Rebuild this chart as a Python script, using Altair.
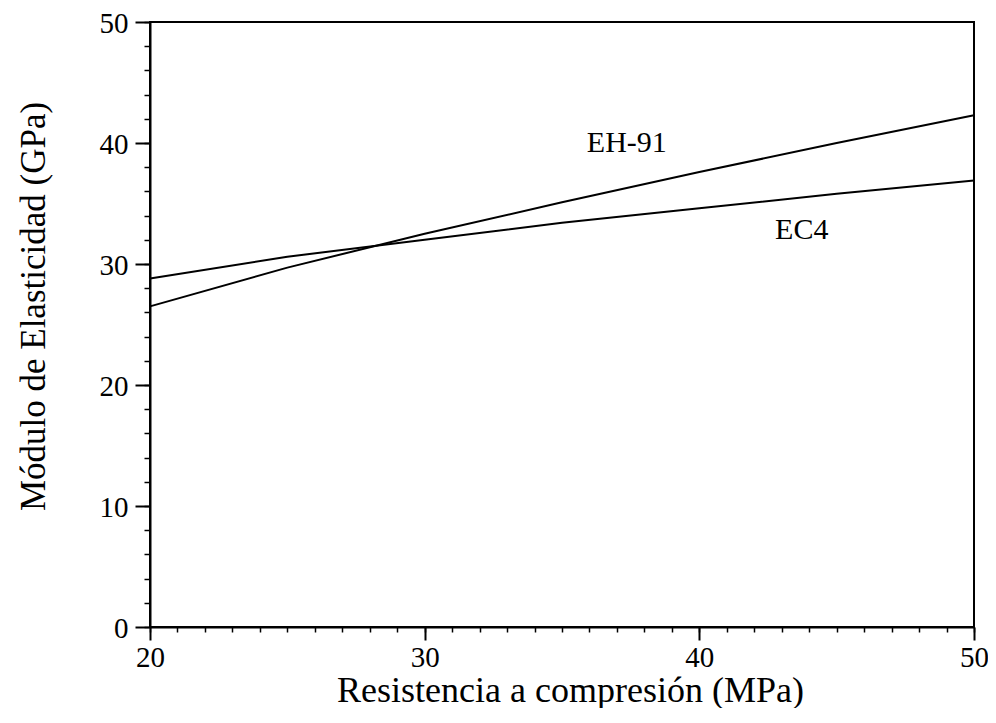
import altair as alt
import pandas as pd

# Data
x_vals = [20, 25, 30, 35, 40, 45, 50]
eh91 = [26.5, 29.7, 32.5, 35.1, 37.6, 40.0, 42.3]
ec4 = [28.8, 30.6, 32.0, 33.4, 34.6, 35.8, 36.9]

label_text = ["EH-91", "EC4"]
label_x = [37.36, 43.73]
label_y = [40.0, 32.8]

x_major = [20, 30, 40, 50]
x_minor = list(range(20, 51))
y_major = [0, 10, 20, 30, 40, 50]
y_minor = list(range(0, 51, 2))

rows = []
for xv, a, b in zip(x_vals, eh91, ec4):
    rows.append({"x": xv, "y": a, "series": "EH-91"})
    rows.append({"x": xv, "y": b, "series": "EC4"})
df = pd.DataFrame(rows)
lab = pd.DataFrame({"x": label_x, "y": label_y, "text": label_text})

FONT = "Liberation Serif"
xscale = alt.Scale(domain=[20, 50], nice=False, zero=False)
yscale = alt.Scale(domain=[0, 50], nice=False)

lines = alt.Chart(df).mark_line(color="black", strokeWidth=2).encode(
    x=alt.X("x:Q", scale=xscale, axis=alt.Axis(
        orient="bottom", values=x_major, format="d", tickSize=13, tickWidth=2,
        domainWidth=2, domainColor="black", tickColor="black", grid=False,
        labelPadding=3, labelFont=FONT, labelFontSize=29, labelColor="black",
        title="Resistencia a compresión (MPa)", titleFont=FONT, titleFontSize=36,
        titleFontWeight="normal", titleColor="black", titleX=420, titleY=74,
        titleAlign="center", titleBaseline="alphabetic", labelFlush=False)),
    y=alt.Y("y:Q", scale=yscale, axis=alt.Axis(
        orient="left", values=y_major, format="d", tickSize=15, tickWidth=2,
        domainWidth=2, domainColor="black", tickColor="black", grid=False,
        labelPadding=7, labelFont=FONT, labelFontSize=29, labelColor="black",
        labelOffset=1.5,
        title="Módulo de Elasticidad (GPa)", titleFont=FONT, titleFontSize=35,
        titleFontWeight="normal", titleColor="black", titleX=-117, titleY=284,
        titleAlign="center", titleBaseline="middle", labelFlush=False)),
    detail="series:N",
)

minor = alt.Chart(df).mark_point(opacity=0).encode(
    x=alt.X("x:Q", scale=xscale, axis=alt.Axis(
        orient="bottom", values=x_minor, tickSize=5, tickWidth=1.5,
        tickColor="black", labels=False, domain=False, grid=False, title=None)),
    y=alt.Y("y:Q", scale=yscale, axis=alt.Axis(
        orient="left", values=y_minor, tickSize=6, tickWidth=1.5,
        tickColor="black", labels=False, domain=False, grid=False, title=None)),
)

texts = alt.Chart(lab).mark_text(font=FONT, fontSize=30, color="black",
                                 align="center", baseline="middle").encode(
    x=alt.X("x:Q", scale=xscale, axis=None),
    y=alt.Y("y:Q", scale=yscale, axis=None),
    text="text:N",
)

chart = alt.layer(lines, minor, texts).resolve_axis(
    x="independent", y="independent"
).properties(
    width=824, height=605,
    view=alt.ViewBackground(stroke="black", strokeWidth=2),
    autosize=alt.AutoSizeParams(type="none"),
    padding={"left": 142, "top": 14, "right": 14, "bottom": 81},
).configure_view(stroke="black", strokeWidth=2).configure(background="white")

chart.save("out.html", embed_options={"renderer": "svg", "actions": False})
